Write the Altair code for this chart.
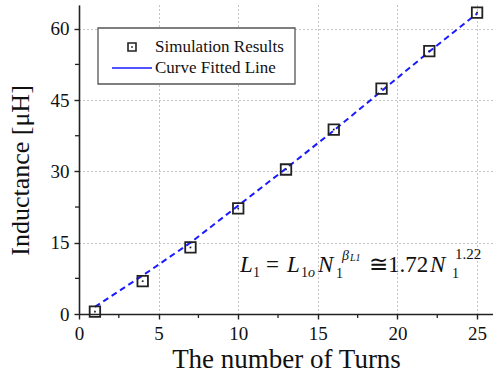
import altair as alt
import pandas as pd

# ---- data ----
turns = [1, 4, 7, 10, 13, 16, 19, 22, 25]
sim_inductance = [0.5, 6.9, 14.0, 22.2, 30.4, 38.8, 47.4, 55.3, 63.4]
fit_turns = [1, 4, 7, 10, 13, 16, 19, 22, 25]
fit_inductance = [1.5, 8.1, 15.0, 22.8, 30.6, 38.6, 46.9, 55.2, 63.2]
x_ticks = [0, 5, 10, 15, 20, 25]
y_ticks = [0, 15, 30, 45, 60]
x_minor = [2.5, 7.5, 12.5, 17.5, 22.5]
y_minor = [7.5, 22.5, 37.5, 52.5]

FONT = "Liberation Serif"
W, H = 414, 309

sim_df = pd.DataFrame({"N": turns, "L": sim_inductance})
fit_df = pd.DataFrame({"N": fit_turns, "L": fit_inductance})

xs = alt.Scale(domain=[0, 26], nice=False, zero=False)
ys = alt.Scale(domain=[0, 65], nice=False, zero=False)

x_axis = alt.Axis(values=x_ticks, title="The number of Turns", grid=True,
                  gridDash=[1, 3], gridColor="#888", gridWidth=1,
                  domainColor="#222", domainWidth=1.6, tickColor="#222",
                  tickWidth=1.4, tickSize=5, labelFont=FONT, labelFontSize=19,
                  labelColor="#111", labelPadding=5, titleFont=FONT,
                  titleFontSize=27, titleFontWeight="normal", titleColor="#111",
                  titleBaseline="alphabetic", titleY=53, labelFlush=False)
y_axis = alt.Axis(values=y_ticks, title="Inductance [μH]", grid=True,
                  gridDash=[1, 3], gridColor="#888", gridWidth=1,
                  domainColor="#222", domainWidth=1.6, tickColor="#222",
                  tickWidth=1.4, tickSize=5, labelFont=FONT, labelFontSize=19,
                  labelColor="#111", labelPadding=5, titleFont=FONT,
                  titleFontSize=26, titleFontWeight="normal", titleColor="#111",
                  titleAngle=270, titleBaseline="bottom", titleX=-46, titleY=165,
                  labelFlush=False)

base_line = alt.Chart(fit_df).mark_line(color="#1a1aff", strokeWidth=2,
                                        strokeDash=[6, 4]).encode(
    x=alt.X("N:Q", scale=xs, axis=x_axis),
    y=alt.Y("L:Q", scale=ys, axis=y_axis),
)

squares = alt.Chart(sim_df).mark_point(shape="square", filled=False,
                                       color="#222", strokeWidth=1.8,
                                       size=110, opacity=1).encode(
    x=alt.X("N:Q", scale=xs), y=alt.Y("L:Q", scale=ys))
dots = alt.Chart(sim_df).mark_point(shape="square", filled=True,
                                    color="#222", size=3, opacity=1).encode(
    x=alt.X("N:Q", scale=xs), y=alt.Y("L:Q", scale=ys))

# minor ticks
xm = alt.Chart(pd.DataFrame({"v": x_minor})).mark_rule(color="#222", strokeWidth=1.3).encode(
    x=alt.X("v:Q", scale=xs), y=alt.value(H), y2=alt.value(H + 4))
ym = alt.Chart(pd.DataFrame({"v": y_minor})).mark_rule(color="#222", strokeWidth=1.3).encode(
    y=alt.Y("v:Q", scale=ys), x=alt.value(-4), x2=alt.value(0))

# legend
leg_box = alt.Chart(pd.DataFrame({"a": [0]})).mark_rect(
    fill="white", stroke="#555", strokeWidth=1.3).encode(
    x=alt.value(19), x2=alt.value(216), y=alt.value(23), y2=alt.value(79))
leg_sq = alt.Chart(pd.DataFrame({"a": [0]})).mark_point(
    shape="square", filled=False, color="#222", strokeWidth=1.6, size=64, opacity=1).encode(
    x=alt.value(53), y=alt.value(42))
leg_dot = alt.Chart(pd.DataFrame({"a": [0]})).mark_point(
    shape="square", filled=True, color="#222", size=3, opacity=1).encode(
    x=alt.value(53), y=alt.value(42))
leg_line = alt.Chart(pd.DataFrame({"a": [0]})).mark_rule(
    color="#1a1aff", strokeWidth=1.6).encode(
    x=alt.value(33), x2=alt.value(73), y=alt.value(63))
leg_txt = alt.Chart(pd.DataFrame({"t": ["Simulation Results", "Curve Fitted Line"],
                                  "py": [42, 63]})).mark_text(
    font=FONT, fontSize=17, align="left", baseline="middle", color="#111").encode(
    x=alt.value(76), y=alt.Y("py:Q", scale=None), text="t:N")

# equation pieces (pixel positions inside plot area)
def eq(texts, px, py, size, style="normal"):
    return alt.Chart(pd.DataFrame({"t": texts, "px": px, "py": py})).mark_text(
        font=FONT, fontSize=size, fontStyle=style, align="left",
        baseline="alphabetic", color="#111").encode(
        x=alt.X("px:Q", scale=None), y=alt.Y("py:Q", scale=None), text="t:N")

eq_big_it = eq(["L", "L", "N", "N"], [161, 208, 239, 351], [267, 267, 267, 267], 23, "italic")
eq_big = eq(["=", "≅1.72"], [187, 290], [267, 267], 23)
eq_sub = eq(["1", "1", "1", "1"], [174, 222, 257, 373], [272, 272, 273, 273], 14)
eq_sub_it = eq(["o"], [229], [272], 14, "italic")
eq_sup_it = eq(["β"], [263], [255], 14, "italic")
eq_sup_it2 = eq(["L1"], [271], [256], 10, "italic")
eq_sup = eq(["1.22"], [376], [254], 15)

chart = alt.layer(
    base_line, squares, dots, xm, ym,
    leg_box, leg_sq, leg_dot, leg_line, leg_txt,
    eq_big_it, eq_big, eq_sub, eq_sub_it, eq_sup_it, eq_sup_it2, eq_sup,
).properties(
    width=W, height=H,
    autosize=alt.AutoSizeParams(type="none"),
    padding={"left": 79, "top": 5, "right": 0, "bottom": 59},
    background="white",
).configure_view(stroke=None).configure_axisY(grid=True)

chart.save("out.html", embed_options={"renderer": "svg", "actions": False})
